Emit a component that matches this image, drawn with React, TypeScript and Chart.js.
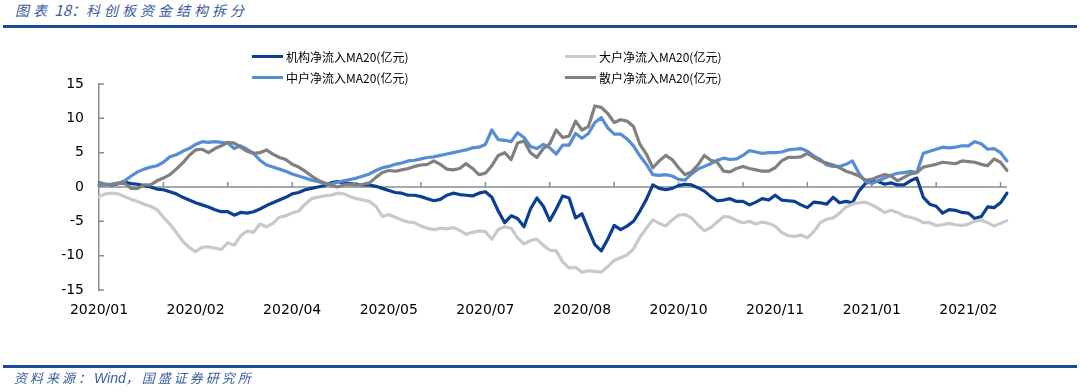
import React, { useEffect, useRef } from 'react';
import { Chart, registerables } from 'chart.js';

Chart.register(...registerables);

const TITLE_PARTS = ['图表', ' 18：', '科创板资金结构拆分'];
const SOURCE_PARTS = ['资料来源：', 'Wind', '，国盛证券研究所'];

const seriesNames = ['机构净流入MA20(亿元)', '大户净流入MA20(亿元)', '中户净流入MA20(亿元)', '散户净流入MA20(亿元)'];
const seriesColors = ['#0b3f95', '#c9c9c9', '#558ed5', '#808080'];

const xTickLabels = ['2020/01', '2020/02', '2020/04', '2020/05', '2020/07', '2020/08', '2020/10', '2020/11', '2021/01', '2021/02'];
const LABEL_STEP = 15;
const TICK_STEP = 10;
const Y_MIN = -15;
const Y_MAX = 15;
const Y_STEP = 5;

const jigou = [
  0.3, 0.4, 0.3, 0.5, 0.7, 0.5, 0.4, 0.2, 0.0, -0.3,
  -0.4, -0.7, -1.0, -1.5, -1.9, -2.3, -2.6, -2.9, -3.3, -3.6,
  -3.6, -4.1, -3.7, -3.8, -3.6, -3.2, -2.7, -2.3, -1.9, -1.5,
  -1.0, -0.8, -0.4, -0.2, 0.0, 0.2, 0.6, 0.8, 0.6, 0.5,
  0.4, 0.3, 0.3, 0.1, -0.2, -0.5, -0.8, -0.9, -1.2, -1.2,
  -1.4, -1.7, -2.0, -1.8, -1.2, -0.9, -1.1, -1.2, -1.3, -0.9,
  -0.7, -1.5, -3.5, -5.2, -4.2, -4.6, -5.8, -3.2, -1.6, -2.8,
  -4.9, -3.2, -1.3, -1.6, -4.5, -3.9, -6.2, -8.4, -9.3, -7.6,
  -5.6, -6.2, -5.7, -5.0, -3.5, -1.8, 0.3, -0.2, -0.4, -0.2,
  0.2, 0.4, 0.3, -0.1, -0.6, -1.4, -2.0, -1.9, -1.7, -2.1,
  -2.1, -2.6, -2.2, -1.7, -1.9, -1.2, -1.9, -2.0, -2.1, -2.6,
  -3.0, -2.2, -2.3, -2.5, -1.5, -2.3, -2.1, -2.3, -0.6, 0.5,
  0.9, 0.8, 0.4, 0.6, 0.3, 0.3, 0.9, 1.3, -1.5, -2.5,
  -2.8, -3.8, -3.3, -3.4, -3.7, -3.8, -4.6, -4.3, -2.9, -3.0,
  -2.3, -0.9,
];

const dahu = [
  -1.4, -1.0, -0.9, -1.0, -1.4, -1.8, -2.1, -2.5, -2.8, -3.3,
  -4.4, -5.4, -6.6, -7.9, -8.8, -9.4, -8.8, -8.7, -8.9, -9.1,
  -8.1, -8.5, -7.1, -6.4, -6.6, -5.4, -5.8, -5.3, -4.4, -4.2,
  -3.8, -3.5, -2.5, -1.7, -1.5, -1.3, -1.2, -0.9, -1.0, -1.4,
  -1.7, -1.9, -2.1, -2.8, -4.3, -4.0, -4.4, -4.8, -5.1, -5.2,
  -5.7, -6.0, -6.2, -6.0, -6.1, -5.9, -6.3, -6.9, -6.6, -6.4,
  -6.5, -7.6, -6.2, -5.8, -6.0, -7.4, -8.3, -7.8, -7.6, -8.5,
  -9.2, -9.3, -10.9, -11.8, -11.7, -12.4, -12.2, -12.3, -12.4, -11.6,
  -10.7, -10.3, -9.9, -9.0, -7.3, -6.0, -4.8, -5.3, -5.7, -4.8,
  -4.1, -4.0, -4.5, -5.5, -6.4, -5.9, -5.1, -4.3, -4.4, -4.9,
  -5.2, -5.0, -5.4, -5.1, -5.3, -5.7, -6.6, -7.1, -7.2, -7.0,
  -7.4, -6.5, -5.2, -4.7, -4.5, -3.8, -2.9, -2.5, -2.3, -2.2,
  -2.6, -3.1, -3.7, -3.4, -3.7, -4.2, -4.4, -4.7, -5.2, -5.2,
  -5.6, -5.5, -5.3, -5.5, -5.6, -5.4, -5.0, -4.8, -5.2, -5.7,
  -5.3, -4.9,
];

const zhonghu = [
  0.3, 0.3, 0.4, 0.5, 0.9, 1.6, 2.2, 2.6, 2.9, 3.1,
  3.6, 4.4, 4.7, 5.2, 5.6, 6.2, 6.6, 6.5, 6.6, 6.5,
  6.4, 5.6, 6.0, 5.5, 4.9, 3.9, 3.2, 2.9, 2.6, 2.3,
  1.9, 1.6, 1.3, 1.0, 0.8, 0.5, 0.4, 0.7, 0.9, 1.1,
  1.3, 1.6, 1.9, 2.4, 2.8, 3.0, 3.3, 3.5, 3.8, 3.9,
  4.1, 4.3, 4.4, 4.6, 4.8, 5.0, 5.2, 5.4, 5.7, 5.8,
  6.2, 8.3, 6.9, 6.8, 6.6, 7.9, 7.2, 5.9, 5.6, 6.2,
  5.7, 4.8, 6.1, 6.1, 7.8, 7.1, 7.8, 9.4, 10.1, 8.6,
  7.7, 7.7, 7.0, 6.0, 4.5, 3.3, 1.8, 1.7, 1.8, 1.6,
  1.1, 1.0, 1.9, 2.6, 3.0, 3.4, 3.9, 4.2, 4.0, 4.1,
  4.6, 5.3, 5.1, 4.9, 5.0, 5.0, 5.1, 5.4, 5.5, 5.6,
  5.2, 4.5, 4.0, 3.2, 3.0, 3.0, 3.3, 3.8, 2.0, 0.8,
  0.5, 0.9, 1.3, 1.7, 2.0, 2.1, 2.3, 2.1, 4.9, 5.2,
  5.5, 5.8, 5.7, 5.8, 6.0, 6.0, 6.6, 6.3, 5.5, 5.6,
  5.0, 3.8,
];

const sanhu = [
  0.7, 0.4, 0.4, 0.6, 0.5, -0.2, -0.2, 0.3, 0.3, 0.9,
  1.3, 1.8, 2.6, 3.5, 4.6, 5.4, 5.5, 5.0, 5.6, 6.0,
  6.5, 6.4, 5.8, 5.2, 4.9, 5.0, 5.4, 4.8, 4.3, 4.0,
  3.3, 2.9, 2.3, 1.6, 1.0, 0.6, 0.3, 0.0, 0.3, 0.4,
  0.3, 0.4, 0.6, 1.4, 2.1, 2.4, 2.3, 2.5, 2.7, 3.0,
  3.2, 3.3, 3.8, 3.3, 2.6, 2.5, 2.7, 3.4, 2.7, 1.8,
  2.0, 3.1, 4.6, 5.0, 4.0, 6.4, 6.7, 5.0, 4.3, 5.6,
  6.3, 8.3, 7.2, 7.4, 9.6, 8.3, 8.8, 11.8, 11.6, 10.7,
  9.4, 9.8, 9.6, 8.8, 6.2, 4.8, 2.8, 3.8, 4.6, 4.0,
  2.8, 1.8, 2.2, 3.2, 4.6, 3.9, 3.6, 2.3, 2.2, 2.7,
  3.0, 2.7, 2.5, 2.3, 2.3, 2.8, 3.8, 4.3, 4.3, 4.4,
  4.9, 4.3, 3.8, 3.5, 3.2, 2.8, 2.3, 2.0, 1.6, 1.0,
  1.1, 1.5, 1.8, 1.6, 0.9, 1.4, 1.9, 2.1, 2.9, 3.1,
  3.3, 3.6, 3.5, 3.4, 3.8, 3.7, 3.6, 3.3, 3.1, 4.1,
  3.6, 2.4,
];

const seriesValues = [jigou, dahu, zhonghu, sanhu];
// Excel-like stacking: later series drawn on top (lower order = on top in Chart.js)
const seriesOrder = [4, 3, 2, 1];

const AXIS_COLOR = '#8c8c8c';
const TICK_FONT = { family: '"DejaVu Sans", sans-serif', size: 14 };
const CJK = '"Noto Sans CJK SC", sans-serif';

const axisDecor = {
  id: 'axisDecor',
  beforeDatasetsDraw(chart: any) {
    const { ctx, chartArea, scales } = chart;
    const xs = scales.x;
    const ys = scales.y;
    const y0 = ys.getPixelForValue(0);
    ctx.save();
    ctx.strokeStyle = AXIS_COLOR;
    ctx.lineWidth = 1.5;
    ctx.beginPath();
    ctx.moveTo(chartArea.left, y0);
    ctx.lineTo(chartArea.right, y0);
    for (let i = 0; i < jigou.length; i += TICK_STEP) {
      const px = xs.getPixelForValue(i);
      ctx.moveTo(px, y0);
      ctx.lineTo(px, y0 - 5);
    }
    ys.ticks.forEach((t: any) => {
      const py = ys.getPixelForValue(t.value);
      ctx.moveTo(chartArea.left, py);
      ctx.lineTo(chartArea.left + 5, py);
    });
    ctx.stroke();
    ctx.restore();
  },
};

export default function App() {
  const canvasRef = useRef<HTMLCanvasElement | null>(null);

  useEffect(() => {
    document.body.style.margin = '0';
    const canvas = canvasRef.current;
    if (!canvas) return;
    const chart = new Chart(canvas, {
      type: 'line',
      data: {
        labels: jigou.map((_, i) => i),
        datasets: seriesValues.map((vals, k) => ({
          label: seriesNames[k],
          data: vals,
          borderColor: seriesColors[k],
          backgroundColor: seriesColors[k],
          borderWidth: 3.2,
          pointRadius: 0,
          tension: 0,
          borderJoinStyle: 'round' as const,
          borderCapStyle: 'round' as const,
          order: seriesOrder[k],
        })),
      },
      options: {
        animation: false,
        responsive: false,
        layout: { padding: { left: 59, right: 73, top: 84, bottom: 72 } },
        plugins: { legend: { display: false }, tooltip: { enabled: false } },
        scales: {
          x: {
            type: 'category',
            grid: { display: false, drawTicks: false },
            border: { display: false },
            afterBuildTicks: (axis: any) => {
              axis.ticks = xTickLabels.map((_, k) => ({ value: k * LABEL_STEP }));
            },
            afterFit: (s: any) => {
              s.height = 30;
            },
            ticks: {
              autoSkip: false,
              maxRotation: 0,
              minRotation: 0,
              padding: 12,
              color: '#000',
              font: TICK_FONT,
              callback: (v: any) => xTickLabels[Math.round(Number(v) / LABEL_STEP)] ?? '',
            },
          },
          y: {
            min: Y_MIN,
            max: Y_MAX,
            grid: { display: false, drawTicks: false },
            border: { display: true, color: AXIS_COLOR, width: 1.5 },
            afterFit: (s: any) => {
              s.width = 40;
            },
            ticks: {
              stepSize: Y_STEP,
              padding: 15,
              color: '#000',
              font: TICK_FONT,
            },
          },
        },
      },
      plugins: [axisDecor],
    });
    return () => chart.destroy();
  }, []);

  const legendCols = [252, 565];
  const legendRows = [56, 77];

  return (
    <div style={{ position: 'relative', width: 1080, height: 392, background: '#fff', overflow: 'hidden' }}>
      <div
        style={{
          position: 'absolute',
          left: 15,
          top: 1,
          fontFamily: CJK,
          fontStyle: 'italic',
          fontSize: 14,
          color: '#3d5c9c',
          whiteSpace: 'nowrap',
          lineHeight: '18px',
        }}
      >
        <span style={{ letterSpacing: 4 }}>{TITLE_PARTS[0]}</span>
        <span style={{ fontSize: 15 }}>{TITLE_PARTS[1]}</span>
        <span style={{ letterSpacing: 4 }}>{TITLE_PARTS[2]}</span>
      </div>
      <div style={{ position: 'absolute', left: 3, right: 3, top: 25, height: 3, background: '#1a4c97' }} />
      <canvas ref={canvasRef} width={1080} height={392} style={{ position: 'absolute', left: 0, top: 0 }} />
      {seriesNames.map((name, k) => (
        <div
          key={name}
          style={{
            position: 'absolute',
            left: legendCols[k % 2],
            top: legendRows[Math.floor(k / 2)] - 9,
            height: 18,
            display: 'flex',
            alignItems: 'center',
            whiteSpace: 'nowrap',
            fontFamily: CJK,
            fontSize: 12,
            color: '#000',
          }}
        >
          <span style={{ display: 'inline-block', width: 31, height: 3, background: seriesColors[k], marginRight: 3 }} />
          <span>{name}</span>
        </div>
      ))}
      <div style={{ position: 'absolute', left: 3, right: 3, top: 365, height: 2.5, background: '#1a4c97' }} />
      <div
        style={{
          position: 'absolute',
          left: 14,
          top: 369,
          fontFamily: CJK,
          fontStyle: 'italic',
          fontSize: 13,
          color: '#3d5c9c',
          whiteSpace: 'nowrap',
          lineHeight: '17px',
        }}
      >
        <span style={{ letterSpacing: 3 }}>{SOURCE_PARTS[0]}</span>
        <span style={{ fontSize: 14, fontFamily: '"Liberation Sans", Arial, sans-serif' }}>{SOURCE_PARTS[1]}</span>
        <span style={{ letterSpacing: 3 }}>{SOURCE_PARTS[2]}</span>
      </div>
    </div>
  );
}
